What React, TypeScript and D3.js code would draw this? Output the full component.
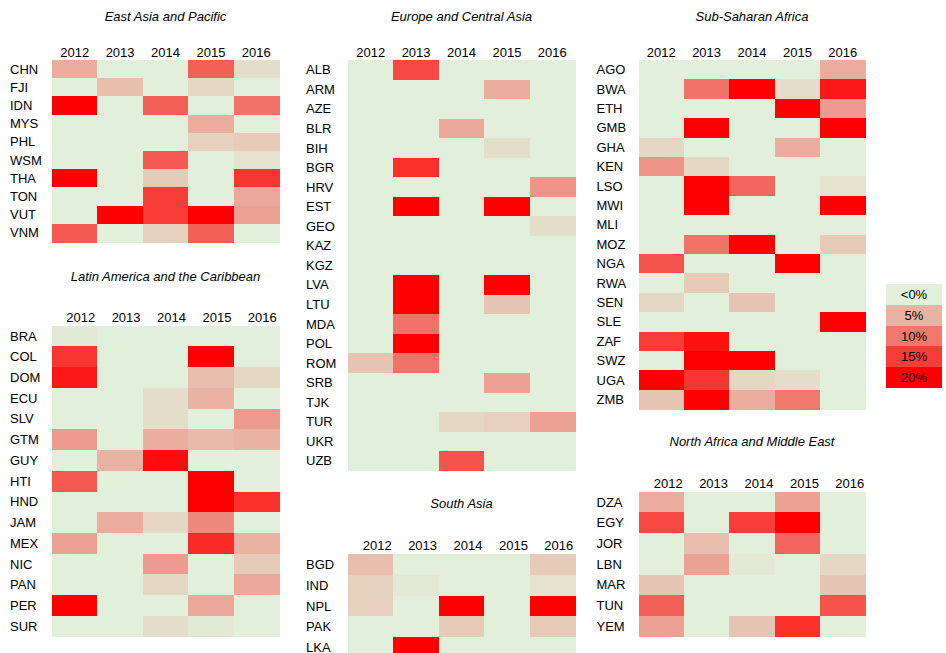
import * as d3 from "d3";

const years = ["2012", "2013", "2014", "2015", "2016"];

// growth rates (%), values <= 0 are shown as "<0%"
const eapCountries = ["CHN", "FJI", "IDN", "MYS", "PHL", "WSM", "THA", "TON", "VUT", "VNM"];
const eapValues = [
  [5.5, 0, 0, 12, 1.5],
  [0, 4, 0, 2, 0],
  [20, 0, 12, 0, 10.5],
  [0, 0, 0, 5.5, 0],
  [0, 0, 0, 2.5, 3],
  [0, 0, 12.5, 0, 1],
  [20, 0, 3, 0, 15.5],
  [0, 0, 15, 0, 6],
  [0, 20, 15, 20, 6.5],
  [12.5, 0, 2.5, 12, 0],
];

const lacCountries = ["BRA", "COL", "DOM", "ECU", "SLV", "GTM", "GUY", "HTI", "HND", "JAM", "MEX", "NIC", "PAN", "PER", "SUR"];
const lacValues = [
  [0.5, 0, 0, 0, 0],
  [15.5, 0, 0, 20, 0],
  [18, 0, 0, 4, 2],
  [0, 0, 1.5, 5, 0],
  [0, 0, 1.5, 0, 7],
  [7, 0, 5.5, 4.5, 5],
  [0, 5, 19, 0, 0],
  [12.5, 0, 0, 20, 0],
  [0, 0, 0, 20, 16],
  [0, 5.5, 2, 8.5, 0],
  [6.5, 0, 0, 16.5, 5],
  [0, 0, 7, 0, 3],
  [0, 0, 2, 0, 6],
  [20, 0, 0, 6, 0],
  [0, 0, 1.5, 0.5, 0],
];

const ecaCountries = ["ALB", "ARM", "AZE", "BLR", "BIH", "BGR", "HRV", "EST", "GEO", "KAZ", "KGZ", "LVA", "LTU", "MDA", "POL", "ROM", "SRB", "TJK", "TUR", "UKR", "UZB"];
const ecaValues = [
  [0, 14, 0, 0, 0],
  [0, 0, 0, 5.5, 0],
  [0, 0, 0, 0, 0],
  [0, 0, 6, 0, 0],
  [0, 0, 0, 1.5, 0],
  [0, 16, 0, 0, 0],
  [0, 0, 0, 0, 7.5],
  [0, 20, 0, 20, 0],
  [0, 0, 0, 0, 1.5],
  [0, 0, 0, 0, 0],
  [0, 0, 0, 0, 0],
  [0, 20, 0, 20, 0],
  [0, 20, 0, 3.5, 0],
  [0, 10.5, 0, 0, 0],
  [0, 20, 0, 0, 0],
  [3.5, 10.5, 0, 0, 0],
  [0, 0, 0, 6.5, 0],
  [0, 0, 0, 0, 0],
  [0, 0, 2, 2.5, 6.5],
  [0, 0, 0, 0, 0],
  [0, 0, 13, 0, 0],
];

const sasCountries = ["BGD", "IND", "NPL", "PAK", "LKA"];
const sasValues = [
  [4, 0, 0, 0, 3],
  [2.5, 0.5, 0, 0, 1],
  [2.5, 0, 20, 0, 20],
  [0, 0, 3, 0, 3],
  [0, 20, 0, 0, 0],
];

const ssaCountries = ["AGO", "BWA", "ETH", "GMB", "GHA", "KEN", "LSO", "MWI", "MLI", "MOZ", "NGA", "RWA", "SEN", "SLE", "ZAF", "SWZ", "UGA", "ZMB"];
const ssaValues = [
  [0, 0, 0, 0, 5.5],
  [0, 10.5, 20, 1.5, 18],
  [0, 0, 0, 20, 7],
  [0, 20, 0, 0, 20],
  [2, 0, 0, 5.5, 0],
  [7.5, 2, 0, 0, 0],
  [0, 20, 11.5, 0, 1],
  [0, 20, 0, 0, 20],
  [0, 0, 0, 0, 0],
  [0, 10.5, 20, 0, 3],
  [13, 0, 0, 20, 0],
  [0, 3, 0, 0, 0],
  [2, 0, 3.5, 0, 0],
  [0, 0, 0, 0, 20],
  [15, 18.5, 0, 0, 0],
  [0, 20, 20, 0, 0],
  [20, 15.5, 2, 1.5, 0],
  [3.5, 20, 5.5, 10, 0],
];

const mnaCountries = ["DZA", "EGY", "JOR", "LBN", "MAR", "TUN", "YEM"];
const mnaValues = [
  [5.5, 0, 0, 6.5, 0],
  [14, 0, 15, 20, 0],
  [0, 4, 0, 11.5, 0],
  [0, 6.5, 0.5, 0, 2],
  [3.5, 0, 0, 0, 3.5],
  [12, 0, 0, 0, 13],
  [6.5, 0, 3.5, 16, 0],
];

const legendLabels = ["<0%", "5%", "10%", "15%", "20%"];
const legendValues = [0, 5, 10, 15, 20];

const color = d3
  .scaleLinear<string>()
  .domain([0, 20])
  .range(["#E2EFDA", "#FF0000"])
  .clamp(true);

const FONT = "'Liberation Sans', Arial, sans-serif";

type PanelProps = {
  title: string;
  countries: string[];
  values: number[][];
  x: number; // left of grid
  top: number; // top of grid
  rowH: number;
  titleY: number;
  yearY: number;
  yearDx?: number;
};

function Panel({ title, countries, values, x, top, rowH, titleY, yearY, yearDx = 0 }: PanelProps) {
  const width = 227;
  const xs = d3.scaleBand<string>().domain(years).range([x, x + width]);
  const ys = d3
    .scaleBand<string>()
    .domain(countries)
    .range([top, top + rowH * countries.length]);

  return (
    <g fontFamily={FONT} fontSize={13} fill="#000">
      <text x={x + width / 2} y={titleY} textAnchor="middle" fontStyle="italic">
        {title}
      </text>
      {years.map((yr) => (
        <text key={yr} x={xs(yr)! + xs.bandwidth() / 2 + yearDx} y={yearY} textAnchor="middle">
          {yr}
        </text>
      ))}
      {countries.map((c, i) => (
        <g key={c}>
          {years.map((yr, j) => (
            <rect
              key={yr}
              x={xs(yr)!}
              y={ys(c)!}
              width={xs.bandwidth() + 0.5}
              height={ys.bandwidth() + 0.5}
              fill={color(Math.max(0, values[i][j]))}
            />
          ))}
          <text x={x - 42} y={ys(c)! + ys.bandwidth() / 2 + 4.5}>
            {c}
          </text>
        </g>
      ))}
    </g>
  );
}

function Legend({ x, top }: { x: number; top: number }) {
  const w = 56;
  const h = 20.7;
  return (
    <g fontFamily={FONT} fontSize={13}>
      {legendLabels.map((lab, i) => (
        <g key={lab}>
          <rect x={x} y={top + i * h} width={w} height={h + 0.5} fill={color(legendValues[i])} />
          <text x={x + w / 2} y={top + i * h + h / 2 + 4.5} textAnchor="middle" fill="#000">
            {lab}
          </text>
        </g>
      ))}
    </g>
  );
}

export default function App() {
  return (
    <svg
      width={946}
      height={653}
      style={{ position: "absolute", left: 0, top: 0, background: "#fff" }}
      shapeRendering="crispEdges"
    >
      <rect width={946} height={653} fill="#fff" />
      <Panel title="East Asia and Pacific" countries={eapCountries} values={eapValues}
        x={52} top={60} rowH={18.2} titleY={21} yearY={57} />
      <Panel title="Latin America and the Caribbean" countries={lacCountries} values={lacValues}
        x={52} top={325.7} rowH={20.73} titleY={281} yearY={322} yearDx={6} />
      <Panel title="Europe and Central Asia" countries={ecaCountries} values={ecaValues}
        x={348} top={60} rowH={19.56} titleY={21} yearY={57} />
      <Panel title="South Asia" countries={sasCountries} values={sasValues}
        x={348} top={554} rowH={20.8} titleY={508} yearY={550} yearDx={6.5} />
      <Panel title="Sub-Saharan Africa" countries={ssaCountries} values={ssaValues}
        x={638.5} top={60} rowH={19.4} titleY={21} yearY={57} />
      <Panel title="North Africa and Middle East" countries={mnaCountries} values={mnaValues}
        x={638.5} top={491.7} rowH={20.7} titleY={446} yearY={488} yearDx={7} />
      <Legend x={886} top={284.3} />
    </svg>
  );
}
